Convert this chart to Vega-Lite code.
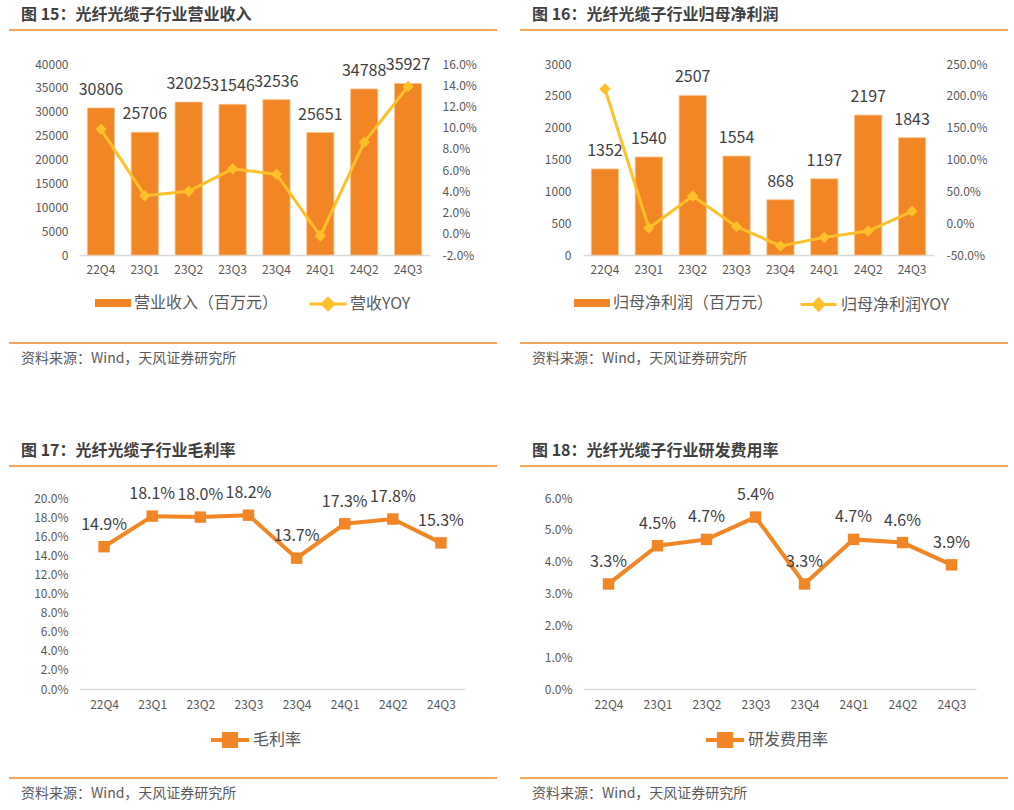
{
  "$schema": "https://vega.github.io/schema/vega-lite/v6.json",
  "padding": {"left": 8, "top": 0, "right": 0, "bottom": 0},
  "bounds": "flush",
  "spacing": 0,
  "resolve": {"scale": {"fill": "independent", "stroke": "independent"}, "legend": {"fill": "independent", "stroke": "independent"}},
  "config": {
    "view": {"stroke": null},
    "font": "Noto Sans CJK SC",
    "axis": {"labelFont": "Noto Sans CJK SC", "labelFontSize": 12, "labelColor": "#595959", "grid": false, "ticks": false, "tickSize": 0, "domain": false, "title": null, "labelOverlap": false, "labelBound": false, "labelFlush": false},
    "axisX": {"domain": true, "domainColor": "#D9D9D9", "domainWidth": 1.5, "labelPadding": 9, "labelAngle": 0},
    "legend": {"padding": 0, "labelFont": "Noto Sans CJK SC", "labelFontSize": 16, "labelColor": "#595959", "orient": "none", "labelOffset": 3, "labelLimit": 400},
    "locale": {"number": {"decimal": ".", "thousands": ",", "grouping": [3], "currency": ["", ""], "minus": "-"}}
  },
  "vconcat": [
    {
      "bounds": "flush", "spacing": 0,
      "hconcat": [
        {"width": 488, "height": 30, "data": {"values": [{"t": "图 15：光纤光缆子行业营业收入"}]},
         "layer": [
           {"mark": {"type": "text", "align": "left", "baseline": "middle", "fontSize": 16, "fontWeight": "bold", "color": "#404040", "dx": 12},
            "encoding": {"x": {"datum": 0, "scale": {"domain": [0, 1]}, "axis": null}, "y": {"datum": 0.5, "scale": {"domain": [0, 1]}, "axis": null}, "text": {"field": "t"}}},
           {"mark": {"type": "rule", "color": "#F08A24", "strokeWidth": 1.5}, "encoding": {"y": {"datum": 0, "axis": null}}}
         ]},
        {"width": 23, "height": 1, "data": {"values": []}, "mark": "point", "encoding": {}},
        {"width": 488, "height": 30, "data": {"values": [{"t": "图 16：光纤光缆子行业归母净利润"}]},
         "layer": [
           {"mark": {"type": "text", "align": "left", "baseline": "middle", "fontSize": 16, "fontWeight": "bold", "color": "#404040", "dx": 12},
            "encoding": {"x": {"datum": 0, "scale": {"domain": [0, 1]}, "axis": null}, "y": {"datum": 0.5, "scale": {"domain": [0, 1]}, "axis": null}, "text": {"field": "t"}}},
           {"mark": {"type": "rule", "color": "#F08A24", "strokeWidth": 1.5}, "encoding": {"y": {"datum": 0, "axis": null}}}
         ]}
      ]
    },
    {"width": 1, "height": 64, "data": {"values": []}, "mark": "point", "encoding": {}},
    {
      "bounds": "flush", "spacing": 0,
      "resolve": {"scale": {"fill": "independent", "stroke": "independent"}, "legend": {"fill": "independent", "stroke": "independent"}},
      "hconcat": [
        {"width": 70, "height": 1, "data": {"values": []}, "mark": "point", "encoding": {}},
        {
          "width": 351, "height": 191,
          "data": {"values": [
            {"q": "22Q4", "rev": 30806, "yoy": 0.0984},
            {"q": "23Q1", "rev": 25706, "yoy": 0.0359},
            {"q": "23Q2", "rev": 32025, "yoy": 0.0400},
            {"q": "23Q3", "rev": 31546, "yoy": 0.0612},
            {"q": "23Q4", "rev": 32536, "yoy": 0.0562},
            {"q": "24Q1", "rev": 25651, "yoy": -0.0021},
            {"q": "24Q2", "rev": 34788, "yoy": 0.0863},
            {"q": "24Q3", "rev": 35927, "yoy": 0.1389}
          ]},
          "encoding": {"x": {"field": "q", "type": "ordinal", "sort": null, "title": null, "scale": {"paddingInner": 0.38, "paddingOuter": 0.19}}},
          "layer": [
            {"encoding": {"y": {"field": "rev", "type": "quantitative", "scale": {"domain": [0, 40000], "nice": false}, "axis": {"values": [0, 5000, 10000, 15000, 20000, 25000, 30000, 35000, 40000], "format": "d", "labelPadding": 11, "labelOverlap": false}, "title": null}},
             "layer": [
              {"mark": {"type": "bar", "stroke": "#F9C38F", "strokeWidth": 0.8},
               "encoding": {
                 "fill": {"datum": "营业收入（百万元）", "scale": {"range": ["#F28524"]}, "legend": {"symbolType": "M-1,-0.22H1V0.22H-1Z", "symbolSize": 1296, "symbolStrokeWidth": 0, "legendX": 16, "legendY": 221}}
               }},
              {"mark": {"type": "text", "baseline": "middle", "dy": -18, "fontSize": 16, "color": "#404040"},
               "encoding": {"text": {"field": "rev", "type": "quantitative", "format": "d"}}}
            ]},
            {"encoding": {"y": {"field": "yoy", "type": "quantitative", "scale": {"domain": [-0.02, 0.16], "nice": false}, "axis": {"orient": "right", "values": [-0.02, 0, 0.02, 0.04, 0.06, 0.08, 0.1, 0.12, 0.14, 0.16], "format": ".1%", "labelPadding": 12, "labelOverlap": false}, "title": null}},
             "layer": [
              {"mark": {"type": "line", "strokeWidth": 3},
               "encoding": {
                 "stroke": {"datum": "营收YOY", "scale": {"range": ["#FFC02A"]}, "legend": {"symbolType": "M-1,0L1,0M0,-0.3L0.3,0L0,0.3L-0.3,0Z", "symbolSize": 1369, "symbolStrokeWidth": 3, "symbolFillColor": "#FFC02A", "labelOffset": 2, "legendX": 229, "legendY": 220, "encode": {"symbols": {"update": {"fill": {"value": "#FFC02A"}}}}}}
               }},
              {"mark": {"type": "point", "shape": "diamond", "filled": true, "size": 130, "color": "#FFC02A", "opacity": 1}}
            ]}
          ],
          "resolve": {"scale": {"y": "independent"}}
        },
        {"width": 153, "height": 1, "data": {"values": []}, "mark": "point", "encoding": {}},
        {
          "width": 351, "height": 191,
          "data": {"values": [
            {"q": "22Q4", "np": 1352, "yoy": 2.107},
            {"q": "23Q1", "np": 1540, "yoy": -0.076},
            {"q": "23Q2", "np": 2507, "yoy": 0.427},
            {"q": "23Q3", "np": 1554, "yoy": -0.055},
            {"q": "23Q4", "np": 868, "yoy": -0.358},
            {"q": "24Q1", "np": 1197, "yoy": -0.223},
            {"q": "24Q2", "np": 2197, "yoy": -0.124},
            {"q": "24Q3", "np": 1843, "yoy": 0.186}
          ]},
          "encoding": {"x": {"field": "q", "type": "ordinal", "sort": null, "title": null, "scale": {"paddingInner": 0.38, "paddingOuter": 0.19}}},
          "layer": [
            {"encoding": {"y": {"field": "np", "type": "quantitative", "scale": {"domain": [0, 3000], "nice": false}, "axis": {"values": [0, 500, 1000, 1500, 2000, 2500, 3000], "format": "d", "labelPadding": 12, "labelOverlap": false}, "title": null}},
             "layer": [
              {"mark": {"type": "bar", "stroke": "#F9C38F", "strokeWidth": 0.8},
               "encoding": {
                 "fill": {"datum": "归母净利润（百万元）", "scale": {"range": ["#F28524"]}, "legend": {"symbolType": "M-1,-0.22H1V0.22H-1Z", "symbolSize": 1296, "symbolStrokeWidth": 0, "legendX": -9, "legendY": 221}}
               }},
              {"mark": {"type": "text", "baseline": "middle", "dy": -18, "fontSize": 16, "color": "#404040"},
               "encoding": {"text": {"field": "np", "type": "quantitative", "format": "d"}}}
            ]},
            {"encoding": {"y": {"field": "yoy", "type": "quantitative", "scale": {"domain": [-0.5, 2.5], "nice": false}, "axis": {"orient": "right", "values": [-0.5, 0, 0.5, 1, 1.5, 2, 2.5], "format": ".1%", "labelPadding": 12, "labelOverlap": false}, "title": null}},
             "layer": [
              {"mark": {"type": "line", "strokeWidth": 3},
               "encoding": {
                 "stroke": {"datum": "归母净利润YOY", "scale": {"range": ["#FFC02A"]}, "legend": {"symbolType": "M-1,0L1,0M0,-0.3L0.3,0L0,0.3L-0.3,0Z", "symbolSize": 1296, "symbolStrokeWidth": 3, "symbolFillColor": "#FFC02A", "labelOffset": 3, "legendX": 216, "legendY": 221, "encode": {"symbols": {"update": {"fill": {"value": "#FFC02A"}}}}}}
               }},
              {"mark": {"type": "point", "shape": "diamond", "filled": true, "size": 130, "color": "#FFC02A", "opacity": 1}}
            ]}
          ],
          "resolve": {"scale": {"y": "independent"}}
        }
      ]
    },
    {"width": 1, "height": 279, "data": {"values": []}, "mark": "point", "encoding": {}},
    {
      "bounds": "flush", "spacing": 0,
      "hconcat": [
        {"width": 488, "height": 32, "data": {"values": [{"t": "资料来源：Wind，天风证券研究所"}]},
         "layer": [
           {"mark": {"type": "text", "align": "left", "baseline": "middle", "fontSize": 14, "color": "#595959", "dx": 12},
            "encoding": {"x": {"datum": 0, "scale": {"domain": [0, 1]}, "axis": null}, "y": {"datum": 0.5, "scale": {"domain": [0, 1]}, "axis": null}, "text": {"field": "t"}}},
           {"mark": {"type": "rule", "color": "#F08A24", "strokeWidth": 1.5}, "encoding": {"y": {"datum": 1, "axis": null}}}
         ]},
        {"width": 23, "height": 1, "data": {"values": []}, "mark": "point", "encoding": {}},
        {"width": 488, "height": 32, "data": {"values": [{"t": "资料来源：Wind，天风证券研究所"}]},
         "layer": [
           {"mark": {"type": "text", "align": "left", "baseline": "middle", "fontSize": 14, "color": "#595959", "dx": 12},
            "encoding": {"x": {"datum": 0, "scale": {"domain": [0, 1]}, "axis": null}, "y": {"datum": 0.5, "scale": {"domain": [0, 1]}, "axis": null}, "text": {"field": "t"}}},
           {"mark": {"type": "rule", "color": "#F08A24", "strokeWidth": 1.5}, "encoding": {"y": {"datum": 1, "axis": null}}}
         ]}
      ]
    },
    {"width": 1, "height": 93, "data": {"values": []}, "mark": "point", "encoding": {}},
    {
      "bounds": "flush", "spacing": 0,
      "hconcat": [
        {"width": 488, "height": 30, "data": {"values": [{"t": "图 17：光纤光缆子行业毛利率"}]},
         "layer": [
           {"mark": {"type": "text", "align": "left", "baseline": "middle", "fontSize": 16, "fontWeight": "bold", "color": "#404040", "dx": 12},
            "encoding": {"x": {"datum": 0, "scale": {"domain": [0, 1]}, "axis": null}, "y": {"datum": 0.5, "scale": {"domain": [0, 1]}, "axis": null}, "text": {"field": "t"}}},
           {"mark": {"type": "rule", "color": "#F08A24", "strokeWidth": 1.5}, "encoding": {"y": {"datum": 0, "axis": null}}}
         ]},
        {"width": 23, "height": 1, "data": {"values": []}, "mark": "point", "encoding": {}},
        {"width": 488, "height": 30, "data": {"values": [{"t": "图 18：光纤光缆子行业研发费用率"}]},
         "layer": [
           {"mark": {"type": "text", "align": "left", "baseline": "middle", "fontSize": 16, "fontWeight": "bold", "color": "#404040", "dx": 12},
            "encoding": {"x": {"datum": 0, "scale": {"domain": [0, 1]}, "axis": null}, "y": {"datum": 0.5, "scale": {"domain": [0, 1]}, "axis": null}, "text": {"field": "t"}}},
           {"mark": {"type": "rule", "color": "#F08A24", "strokeWidth": 1.5}, "encoding": {"y": {"datum": 0, "axis": null}}}
         ]}
      ]
    },
    {"width": 1, "height": 62, "data": {"values": []}, "mark": "point", "encoding": {}},
    {
      "bounds": "flush", "spacing": 0,
      "resolve": {"scale": {"fill": "independent", "stroke": "independent"}, "legend": {"fill": "independent", "stroke": "independent"}},
      "hconcat": [
        {"width": 71, "height": 1, "data": {"values": []}, "mark": "point", "encoding": {}},
        {
          "width": 385, "height": 191,
          "data": {"values": [
            {"q": "22Q4", "gm": 0.149},
            {"q": "23Q1", "gm": 0.181},
            {"q": "23Q2", "gm": 0.180},
            {"q": "23Q3", "gm": 0.182},
            {"q": "23Q4", "gm": 0.137},
            {"q": "24Q1", "gm": 0.173},
            {"q": "24Q2", "gm": 0.178},
            {"q": "24Q3", "gm": 0.153}
          ]},
          "encoding": {
            "x": {"field": "q", "type": "ordinal", "sort": null, "title": null, "scale": {"padding": 0.5}, "axis": {"labelPadding": 10}},
            "y": {"field": "gm", "type": "quantitative", "scale": {"domain": [0, 0.2], "nice": false}, "axis": {"values": [0, 0.02, 0.04, 0.06, 0.08, 0.1, 0.12, 0.14, 0.16, 0.18, 0.2], "format": ".1%", "labelPadding": 12}, "title": null}
          },
          "layer": [
            {"mark": {"type": "line", "strokeWidth": 4},
             "encoding": {"stroke": {"datum": "毛利率", "scale": {"range": ["#F28524"]}, "legend": {"symbolType": "M-1,0L1,0M-0.32,-0.32H0.32V0.32H-0.32Z", "symbolSize": 1444, "symbolStrokeWidth": 4, "symbolFillColor": "#F28524", "labelOffset": 2, "legendX": 129, "legendY": 221, "encode": {"symbols": {"update": {"fill": {"value": "#F28524"}}}}}}}},
            {"mark": {"type": "point", "shape": "square", "filled": true, "size": 130, "color": "#F28524", "opacity": 1}},
            {"mark": {"type": "text", "baseline": "middle", "dy": -22, "fontSize": 16, "color": "#404040"},
             "encoding": {"text": {"field": "gm", "type": "quantitative", "format": ".1%"}}}
          ]
        },
        {"width": 119, "height": 1, "data": {"values": []}, "mark": "point", "encoding": {}},
        {
          "width": 392, "height": 191,
          "data": {"values": [
            {"q": "22Q4", "rd": 0.033},
            {"q": "23Q1", "rd": 0.045},
            {"q": "23Q2", "rd": 0.047},
            {"q": "23Q3", "rd": 0.054},
            {"q": "23Q4", "rd": 0.033},
            {"q": "24Q1", "rd": 0.047},
            {"q": "24Q2", "rd": 0.046},
            {"q": "24Q3", "rd": 0.039}
          ]},
          "encoding": {
            "x": {"field": "q", "type": "ordinal", "sort": null, "title": null, "scale": {"padding": 0.5}, "axis": {"labelPadding": 10}},
            "y": {"field": "rd", "type": "quantitative", "scale": {"domain": [0, 0.06], "nice": false}, "axis": {"values": [0, 0.01, 0.02, 0.03, 0.04, 0.05, 0.06], "format": ".1%", "labelPadding": 12}, "title": null}
          },
          "layer": [
            {"mark": {"type": "line", "strokeWidth": 4},
             "encoding": {"stroke": {"datum": "研发费用率", "scale": {"range": ["#F28524"]}, "legend": {"symbolType": "M-1,0L1,0M-0.32,-0.32H0.32V0.32H-0.32Z", "symbolSize": 1444, "symbolStrokeWidth": 4, "symbolFillColor": "#F28524", "labelOffset": 2, "legendX": 120, "legendY": 221, "encode": {"symbols": {"update": {"fill": {"value": "#F28524"}}}}}}}},
            {"mark": {"type": "point", "shape": "square", "filled": true, "size": 130, "color": "#F28524", "opacity": 1}},
            {"mark": {"type": "text", "baseline": "middle", "dy": -22, "fontSize": 16, "color": "#404040"},
             "encoding": {"text": {"field": "rd", "type": "quantitative", "format": ".1%"}}}
          ]
        }
      ]
    },
    {"width": 1, "height": 280, "data": {"values": []}, "mark": "point", "encoding": {}},
    {
      "bounds": "flush", "spacing": 0,
      "hconcat": [
        {"width": 488, "height": 32, "data": {"values": [{"t": "资料来源：Wind，天风证券研究所"}]},
         "layer": [
           {"mark": {"type": "text", "align": "left", "baseline": "middle", "fontSize": 14, "color": "#595959", "dx": 12},
            "encoding": {"x": {"datum": 0, "scale": {"domain": [0, 1]}, "axis": null}, "y": {"datum": 0.5, "scale": {"domain": [0, 1]}, "axis": null}, "text": {"field": "t"}}},
           {"mark": {"type": "rule", "color": "#F08A24", "strokeWidth": 1.5}, "encoding": {"y": {"datum": 1, "axis": null}}}
         ]},
        {"width": 23, "height": 1, "data": {"values": []}, "mark": "point", "encoding": {}},
        {"width": 488, "height": 32, "data": {"values": [{"t": "资料来源：Wind，天风证券研究所"}]},
         "layer": [
           {"mark": {"type": "text", "align": "left", "baseline": "middle", "fontSize": 14, "color": "#595959", "dx": 12},
            "encoding": {"x": {"datum": 0, "scale": {"domain": [0, 1]}, "axis": null}, "y": {"datum": 0.5, "scale": {"domain": [0, 1]}, "axis": null}, "text": {"field": "t"}}},
           {"mark": {"type": "rule", "color": "#F08A24", "strokeWidth": 1.5}, "encoding": {"y": {"datum": 1, "axis": null}}}
         ]}
      ]
    }
  ]
}
